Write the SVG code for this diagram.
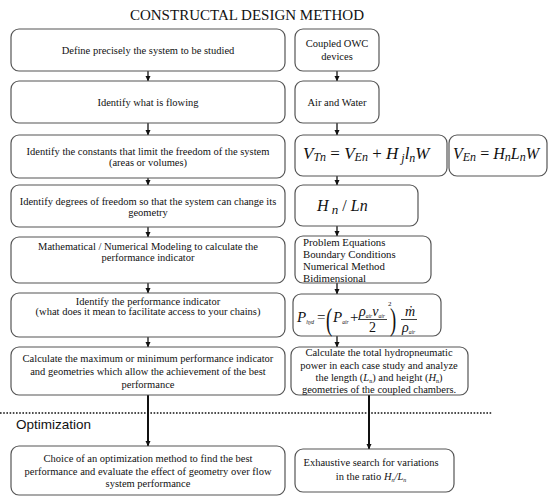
<svg xmlns="http://www.w3.org/2000/svg" width="550" height="501" viewBox="0 0 550 501">
<defs>
<marker id="ah" markerWidth="6" markerHeight="6" refX="5" refY="3" orient="auto" markerUnits="userSpaceOnUse">
<path d="M0,0.5 L5.5,3 L0,5.5 Z" fill="#111"/>
</marker>
<style>
.box{fill:#fff;stroke:#555;stroke-width:1.2}
.t{font-family:"Liberation Serif","Times New Roman",serif;font-size:10.5px;fill:#111;text-anchor:middle}
.tl{font-family:"Liberation Serif","Times New Roman",serif;font-size:10.8px;fill:#111}
.m{font-family:"Liberation Serif","Times New Roman",serif;font-style:italic;fill:#111}
.n{font-family:"Liberation Serif","Times New Roman",serif;fill:#111}
.c{stroke:#111;stroke-width:1.3;fill:none;marker-end:url(#ah)}
</style>
</defs>
<rect width="550" height="501" fill="#fff"/>
<text x="247" y="20" style="font-family:'Liberation Serif','Times New Roman',serif;font-size:15px;fill:#111;text-anchor:middle">CONSTRUCTAL DESIGN METHOD</text>

<g id="connectors">
<line class="c" x1="148" y1="71" x2="148" y2="81"/>
<line class="c" x1="148" y1="123" x2="148" y2="135"/>
<line class="c" x1="148" y1="178" x2="148" y2="185"/>
<line class="c" x1="148" y1="227" x2="148" y2="237"/>
<line class="c" x1="148" y1="283" x2="148" y2="293"/>
<line class="c" x1="148" y1="337" x2="148" y2="347"/>
<line class="c" x1="148" y1="395" x2="148" y2="446" style="stroke-width:2"/>
<line class="c" x1="337" y1="71" x2="337" y2="81"/>
<line class="c" x1="337" y1="123" x2="337" y2="135"/>
<line class="c" x1="337" y1="176" x2="337" y2="185"/>
<line class="c" x1="337" y1="226" x2="337" y2="236"/>
<line class="c" x1="337" y1="283" x2="337" y2="294"/>
<line class="c" x1="337" y1="336" x2="337" y2="347"/>
<line class="c" x1="369" y1="395" x2="369" y2="449" style="stroke-width:2"/>
<line x1="0" y1="413" x2="492" y2="413" stroke="#111" stroke-width="1.6" stroke-dasharray="1.6,1.6"/>
</g>

<text x="16" y="429" style="font-family:'Liberation Sans',Arial,sans-serif;font-size:13.5px;fill:#111">Optimization</text>

<g id="n1"><rect class="box" x="11" y="29" width="274" height="42" rx="8"/>
<text class="t" x="148" y="54">Define precisely the system to be studied</text></g>
<g id="n2"><rect class="box" x="11" y="81" width="274" height="42" rx="8"/>
<text class="t" x="148" y="106">Identify what is flowing</text></g>
<g id="n3"><rect class="box" x="11" y="135" width="274" height="43" rx="8"/>
<text class="t" x="148" y="155">Identify the constants that limit the freedom of the system</text>
<text class="t" x="148" y="166">(areas or volumes)</text></g>
<g id="n4"><rect class="box" x="11" y="185" width="274" height="42" rx="8"/>
<text class="t" x="148" y="205">Identify degrees of freedom so that the system can change its</text>
<text class="t" x="148" y="216">geometry</text></g>
<g id="n5"><rect class="box" x="11" y="237" width="274" height="46" rx="8"/>
<text class="t" x="148" y="250">Mathematical / Numerical Modeling to calculate the</text>
<text class="t" x="148" y="261">performance indicator</text></g>
<g id="n6"><rect class="box" x="11" y="293" width="274" height="44" rx="8"/>
<text class="t" x="148" y="305">Identify the performance indicator</text>
<text class="t" x="148" y="315">(what does it mean to facilitate access to your chains)</text></g>
<g id="n7"><rect class="box" x="11" y="347" width="274" height="48" rx="8"/>
<text class="t" x="148" y="362">Calculate the maximum or minimum performance indicator</text>
<text class="t" x="148" y="375">and geometries which allow the achievement of the best</text>
<text class="t" x="148" y="388">performance</text></g>
<g id="n8"><rect class="box" x="11" y="446" width="274" height="49" rx="8"/>
<text class="t" x="148" y="462">Choice of an optimization method to find the best</text>
<text class="t" x="148" y="475">performance and evaluate the effect of geometry over flow</text>
<text class="t" x="148" y="487">system performance</text></g>

<g id="r1"><rect class="box" x="295" y="29" width="84" height="42" rx="8"/>
<text class="t" x="337" y="47">Coupled OWC</text>
<text class="t" x="337" y="60">devices</text></g>
<g id="r2"><rect class="box" x="295" y="81" width="84" height="42" rx="8"/>
<text class="t" x="337" y="106">Air and Water</text></g>
<g id="r3"><rect class="box" x="295" y="135" width="152" height="41" rx="8"/>
<text class="m" x="303" y="159" style="font-size:17px">V<tspan font-size="12" dy="2">Tn</tspan><tspan dy="-2" font-style="normal"> = </tspan>V<tspan font-size="12" dy="2">En</tspan><tspan dy="-2" font-style="normal"> + </tspan>H<tspan font-size="12" dy="3"> j</tspan><tspan dy="-3">l</tspan><tspan font-size="12" dy="3">n</tspan><tspan dy="-3">W</tspan></text></g>
<g id="r3b"><rect class="box" x="449" y="135" width="98" height="41" rx="8"/>
<text class="m" x="453" y="159" style="font-size:16px">V<tspan font-size="12" dy="2">En</tspan><tspan dy="-2" font-style="normal"> = </tspan>H<tspan font-size="12" dy="2">n</tspan><tspan dy="-2">L</tspan><tspan font-size="12" dy="2">n</tspan><tspan dy="-2">W</tspan></text></g>
<g id="r4"><rect class="box" x="295" y="185" width="123" height="41" rx="8"/>
<text class="m" x="317" y="211" style="font-size:16px">H<tspan font-size="13" dy="3"> n</tspan><tspan dy="-3" font-style="normal"> / </tspan>Ln</text></g>
<g id="r5"><rect class="box" x="295" y="236" width="136" height="47" rx="8"/>
<text class="tl" x="303" y="246">Problem Equations</text>
<text class="tl" x="303" y="258">Boundary Conditions</text>
<text class="tl" x="303" y="270">Numerical Method</text>
<text class="tl" x="303" y="282">Bidimensional</text></g>
<g id="r6"><rect class="box" x="293" y="294" width="148" height="42" rx="8"/>
<text class="m" x="297" y="322" style="font-size:15px">P<tspan font-size="5.5" dy="2">hyd</tspan></text>
<text class="n" x="317" y="322" style="font-size:15px">=</text>
<text class="n" x="326" y="330" style="font-size:31px" transform="translate(326,330) scale(0.6,1) translate(-326,-330)">(</text>
<text class="m" x="333" y="322" style="font-size:15px">P<tspan font-size="5.5" dy="2">air</tspan></text>
<text class="n" x="350" y="322" style="font-size:15px">+</text>
<text class="m" x="359" y="316" style="font-size:14px">ρ<tspan font-size="5.5" dy="2">air</tspan><tspan dy="-2">v</tspan><tspan font-size="5.5" dy="2">air</tspan></text>
<text class="n" x="388" y="306" style="font-size:7px">2</text>
<line x1="358" y1="319.5" x2="387" y2="319.5" stroke="#111" stroke-width="0.8"/>
<text class="n" x="369" y="332" style="font-size:14px">2</text>
<text class="n" x="390" y="330" style="font-size:31px" transform="translate(390,330) scale(0.6,1) translate(-390,-330)">)</text>
<text class="m" x="405" y="316" style="font-size:14px">ṁ</text>
<line x1="401" y1="319.5" x2="417" y2="319.5" stroke="#111" stroke-width="0.8"/>
<text class="m" x="402" y="332" style="font-size:14px">ρ<tspan font-size="5.5" dy="2">air</tspan></text></g>
<g id="r7"><rect class="box" x="291" y="347" width="177" height="48" rx="8"/>
<text class="t" x="379" y="356">Calculate the total hydropneumatic</text>
<text class="t" x="379" y="369">power in each case study and analyze</text>
<text class="t" x="379" y="381">the length (<tspan font-style="italic">L</tspan><tspan font-size="6" dy="2">n</tspan><tspan dy="-2">) and height (</tspan><tspan font-style="italic">H</tspan><tspan font-size="6" dy="2">n</tspan><tspan dy="-2">)</tspan></text>
<text class="t" x="379" y="393">geometries of the coupled chambers.</text></g>
<g id="r8"><rect class="box" x="295" y="449" width="159" height="43" rx="8"/>
<text class="t" x="371" y="466">Exhaustive search for variations</text>
<text class="t" x="371" y="480">in the ratio <tspan font-style="italic">H</tspan><tspan font-size="6" dy="2" font-style="italic">n</tspan><tspan dy="-2" font-style="italic">/L</tspan><tspan font-size="6" dy="2" font-style="italic">n</tspan></text></g>
</svg>
